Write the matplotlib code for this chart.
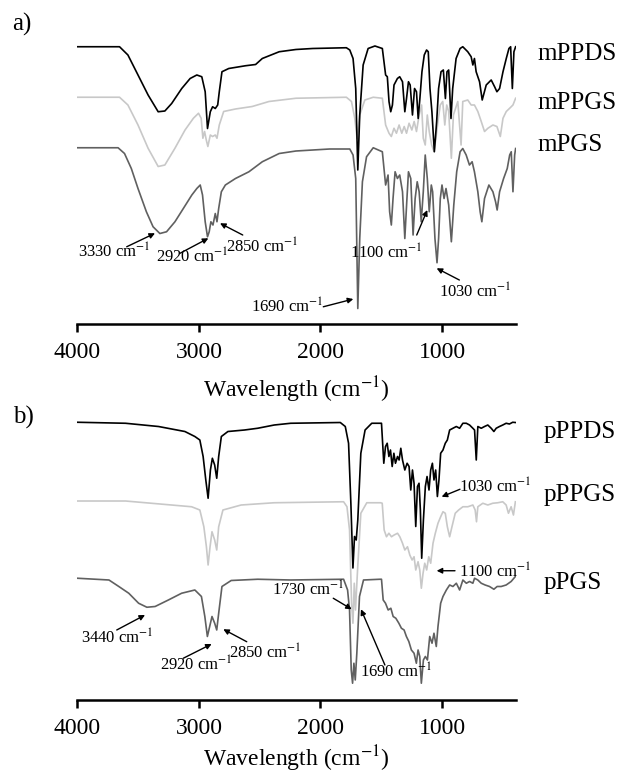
import matplotlib
matplotlib.use('Agg')
import matplotlib.pyplot as plt

plt.rcParams['font.family'] = ['Liberation Serif', 'DejaVu Serif']
plt.rcParams['mathtext.fontset'] = 'stix'

# spectra: wavenumber (cm-1) and transmittance (a.u., baseline = 100)
mppds_wn = [4000, 3654, 3585, 3502, 3419, 3336, 3281, 3225, 3142, 3073, 3018, 2977, 2949, 2930, 2907,
            2888, 2866, 2846, 2833, 2811, 2755, 2617, 2534, 2479, 2340, 2202, 2064, 1787, 1759, 1732,
            1710, 1693, 1677, 1649, 1608, 1552, 1491, 1464, 1450, 1436, 1422, 1408, 1395, 1367, 1348,
            1325, 1306, 1292, 1276, 1262, 1243, 1226, 1210, 1196, 1182, 1165, 1146, 1127, 1113, 1099,
            1083, 1063, 1044, 1028, 1008, 989, 972, 959, 945, 926, 912, 884, 851, 829, 788, 760, 746,
            733, 719, 691, 669, 636, 595, 567, 548, 526, 498, 471, 449, 435, 421, 408, 394]
mppds_t = [100, 100, 96.7, 88.7, 80.7, 74.0, 74.3, 77.3, 83.3, 87.3, 88.7, 88.0, 82.0, 67.3, 74.0,
           76.0, 75.3, 76.7, 82.0, 90.0, 91.3, 92.4, 92.9, 95.3, 98.0, 98.9, 99.3, 99.6, 98.7, 95.3,
           83.3, 50.7, 72.7, 92.7, 99.3, 100.3, 99.3, 88.7, 88.0, 78.0, 74.0, 76.7, 84.7, 87.3, 88.0,
           86.0, 74.0, 79.3, 86.0, 84.7, 72.7, 83.3, 82.0, 71.3, 79.3, 90.0, 96.7, 98.7, 98.0, 83.3,
           74.0, 58.0, 70.0, 83.3, 90.0, 90.7, 79.3, 90.0, 90.7, 71.3, 83.3, 95.3, 99.3, 100, 98.0, 96.0, 92.7,
           95.3, 90.0, 86.0, 78.7, 84.7, 86.7, 84.0, 82.0, 83.3, 90.0, 95.3, 99.3, 100, 83.3, 98.0, 100]

mppgs_wn = [4000, 3654, 3585, 3502, 3419, 3336, 3281, 3198, 3115, 3046, 3004, 2982, 2968, 2954, 2940,
            2927, 2907, 2888, 2866, 2852, 2833, 2797, 2700, 2562, 2424, 2202, 1787, 1745, 1718, 1699,
            1677, 1635, 1566, 1491, 1464, 1436, 1417, 1395, 1375, 1353, 1331, 1311, 1292, 1271, 1248,
            1229, 1210, 1188, 1168, 1154, 1138, 1121, 1105, 1085, 1066, 1050, 1030, 1014, 994, 977,
            961, 945, 923, 906, 870, 843, 829, 788, 760, 733, 705, 677, 650, 622, 581, 548, 520, 498,
            471, 443, 416, 394]
mppgs_t = [100, 100, 96.9, 88.9, 79.6, 72.3, 72.9, 79.6, 86.9, 91.6, 93.6, 91.6, 83.6, 86.3, 82.9,
           80.3, 84.9, 84.3, 84.9, 83.6, 88.9, 94.3, 95.3, 96.3, 98.3, 99.6, 100, 98.3, 91.6, 83.6,
           92.9, 98.9, 100, 99.6, 88.9, 85.6, 84.3, 87.6, 85.6, 88.9, 85.6, 88.3, 85.6, 89.6, 86.9,
           90.3, 86.3, 92.9, 96.9, 83.6, 80.9, 92.9, 86.3, 80.9, 78.3, 83.6, 91.6, 96.9, 98.3, 88.9,
           96.9, 94.3, 75.6, 92.9, 98.3, 80.9, 98.3, 98.9, 96.9, 96.9, 94.3, 90.3, 86.3, 87.6, 88.9, 88.3, 84.3, 91.6,
           94.3, 95.6, 96.9, 99.6]

mpgs_wn = [4000, 3666, 3613, 3557, 3502, 3433, 3378, 3322, 3267, 3198, 3129, 3059, 3018, 2990, 2971,
           2949, 2930, 2916, 2902, 2885, 2866, 2852, 2838, 2816, 2783, 2700, 2589, 2479, 2340, 2202,
           1925, 1759, 1732, 1710, 1693, 1677, 1655, 1621, 1566, 1491, 1464, 1444, 1431, 1417, 1403,
           1386, 1367, 1348, 1325, 1306, 1290, 1276, 1257, 1238, 1221, 1204, 1188, 1171, 1154, 1138,
           1121, 1105, 1088, 1077, 1058, 1041, 1028, 1014, 1000, 983, 967, 945, 923, 903, 879, 851,
           829, 801, 774, 752, 733, 705, 686, 672, 650, 614, 581, 559, 546, 526, 493, 463, 443, 430,
           416, 402, 394]
mpgs_t = [100, 100, 97.7, 91.7, 83.7, 74.4, 68.4, 65.7, 66.4, 70.4, 75.7, 81.1, 83.7, 85.1, 81.1,
          70.4, 64.4, 66.4, 70.4, 69.1, 73.7, 70.4, 75.7, 82.4, 85.1, 87.7, 90.4, 94.4, 97.7, 98.7,
          99.5, 99.5, 97.1, 87.7, 35.7, 63.7, 86.4, 96.4, 100, 98.4, 85.1, 89.1, 74.4, 69.1, 79.7,
          90.4, 87.7, 89.1, 82.4, 63.7, 78.4, 90.4, 87.7, 65.1, 79.7, 86.4, 82.4, 70.4, 82.4, 97.1,
          87.7, 74.4, 85.1, 82.4, 63.7, 54.0, 63.7, 79.7, 85.1, 79.7, 83.7, 77.1, 62.4, 77.1, 90.4, 98.4,
          99.7, 97.1, 93.1, 94.4, 90.4, 82.4, 74.4, 70.4, 79.7, 85.1, 82.4, 78.4, 75.1, 82.4, 87.7, 91.7, 97.1, 98.4,
          82.4, 97.1, 99.7]

pppds_wn = [4000, 3605, 3333, 3116, 3034, 2993, 2966, 2944, 2925, 2906, 2890, 2871, 2854, 2838, 2816,
            2762, 2626, 2517, 2381, 2245, 1837, 1796, 1769, 1750, 1733, 1720, 1706, 1693, 1668, 1633,
            1578, 1498, 1479, 1465, 1451, 1437, 1424, 1410, 1396, 1383, 1366, 1353, 1339, 1325, 1306,
            1287, 1271, 1257, 1243, 1230, 1216, 1202, 1189, 1178, 1167, 1153, 1137, 1123, 1107, 1093,
            1079, 1066, 1052, 1038, 1025, 1011, 992, 973, 956, 937, 910, 882, 855, 828, 800, 773, 746,
            732, 718, 705, 677, 650, 623, 595, 573, 554, 527, 500, 472, 445, 418, 396]
pppds_t = [100, 99.6, 98.3, 96.3, 94.3, 92.9, 86.3, 76.9, 69.6, 80.9, 85.6, 82.9, 77.6, 86.3, 94.3,
           96.3, 96.9, 97.6, 98.9, 99.6, 99.9, 98.3, 91.6, 67.6, 41.7, 54.3, 52.9, 60.9, 87.6, 96.9,
           99.6, 99.6, 83.6, 90.3, 91.6, 86.3, 88.9, 82.3, 87.6, 83.6, 86.3, 84.9, 89.6, 84.9, 80.9,
           83.6, 82.3, 72.9, 80.9, 75.6, 58.3, 74.3, 75.6, 64.9, 45.6, 60.9, 74.3, 78.3, 72.9, 80.9,
           83.6, 76.9, 80.9, 70.3, 76.9, 87.6, 88.9, 91.6, 92.9, 96.9, 97.6, 98.3, 97.6, 99.6, 99.6, 98.9, 97.6,
           96.9, 84.9, 98.3, 97.6, 98.3, 98.9, 97.6, 96.3, 97.6, 98.3, 98.9, 99.6, 99.3, 100, 99.9]

pppgs_wn = [4000, 3605, 3061, 2993, 2960, 2939, 2925, 2909, 2893, 2871, 2854, 2838, 2803, 2653, 2381,
            1810, 1782, 1761, 1744, 1733, 1722, 1712, 1695, 1668, 1619, 1505, 1492, 1476, 1457, 1437,
            1416, 1394, 1366, 1347, 1325, 1306, 1284, 1265, 1246, 1230, 1216, 1197, 1183, 1170, 1156,
            1142, 1126, 1109, 1093, 1074, 1055, 1033, 1011, 992, 973, 956, 937, 918, 891, 863, 828,
            787, 746, 727, 716, 705, 664, 623, 582, 541, 500, 472, 453, 431, 412, 396]
pppgs_t = [100, 100, 97.7, 96.4, 89.7, 81.7, 74.4, 81.7, 87.7, 84.4, 80.4, 89.7, 96.4, 98.4, 99.3,
           99.7, 97.7, 88.4, 59.1, 51.1, 67.1, 56.4, 72.4, 95.1, 99.3, 99.3, 99.1, 88.4, 85.7, 87.1,
           85.7, 86.4, 87.1, 85.7, 83.1, 80.4, 81.7, 78.4, 76.4, 77.7, 72.4, 75.7, 72.4, 65.1, 71.1,
           75.1, 72.4, 77.7, 75.1, 83.1, 87.1, 91.1, 93.7, 95.7, 95.1, 89.7, 85.7, 89.7, 95.1, 96.4, 97.7,
           97.7, 98.4, 96.4, 91.7, 97.7, 99.1, 98.4, 99.1, 99.3, 99.7, 98.4, 95.1, 97.7, 94.4, 99.7]

ppgs_wn = [4000, 3741, 3660, 3578, 3497, 3429, 3361, 3252, 3143, 3034, 2980, 2952, 2931, 2912, 2893,
           2871, 2854, 2838, 2811, 2735, 2517, 2245, 1810, 1777, 1761, 1747, 1736, 1725, 1714, 1701,
           1679, 1646, 1510, 1498, 1484, 1465, 1443, 1421, 1402, 1380, 1355, 1334, 1312, 1293, 1273,
           1252, 1230, 1211, 1197, 1183, 1170, 1153, 1137, 1120, 1101, 1082, 1066, 1047, 1033, 1011,
           992, 964, 937, 910, 882, 855, 828, 800, 773, 746, 732, 705, 677, 645, 609, 573, 546, 513,
           472, 431, 396]
ppgs_t = [100, 99.3, 96.7, 94.0, 90.0, 88.4, 88.7, 91.3, 94.0, 95.3, 92.7, 84.7, 76.7, 80.7, 84.7,
          82.0, 79.3, 86.0, 96.7, 99.1, 99.6, 99.3, 99.6, 95.3, 87.3, 63.3, 58.0, 66.0, 59.3, 70.0,
          92.7, 99.3, 99.6, 99.6, 91.3, 90.0, 87.3, 88.0, 84.7, 84.0, 82.0, 80.0, 79.3, 76.7, 74.7,
          71.3, 70.0, 66.0, 71.3, 68.7, 58.0, 67.3, 68.7, 67.3, 76.7, 74.0, 78.0, 72.7, 80.7, 90.0,
          92.7, 95.3, 97.3, 96.7, 98.0, 95.3, 99.3, 98.0, 98.7, 98.0, 100, 99.3, 98.0, 97.3, 96.7, 95.6, 96.7, 96.7,
          97.3, 98.7, 100.7]

names_a = ['mPPDS', 'mPPGS', 'mPGS']
names_b = ['pPPDS', 'pPPGS', 'pPGS']
colors = ['black', '#c8c8c8', '#606060']
offsets_a = [0, -20.2, -40.4]
offsets_b = [0, -31.5, -62.4]

# (label, text x, text y, arrow tail, arrow tip) in axes data units
notes_a = [('3330', 3700, 17.9, (3595, 20.0), (3362, 25.4)),
           ('2920', 3058, 16.0, (3156, 17.4), (2923, 23.4)),
           ('2850', 2480, 20.0, (2640, 24.7), (2827, 29.4)),
           ('1690', 2272, -4.0, (1977, -4.0), (1730, -0.9)),
           ('1100', 1461, 17.4, (1208, 24.7), (1121, 34.7)),
           ('1030', 722, 2.0, (857, 6.7), (1044, 11.4))]
notes_b = [('3440', 3671, 13.6, (3677, 16.9), (3444, 22.9)),
           ('2920', 3026, 2.9, (3129, 5.6), (2896, 11.3)),
           ('2850', 2455, 7.6, (2607, 12.2), (2800, 17.2)),
           ('1730', 2100, 32.9, (1895, 29.6), (1743, 25.2)),
           ('1690', 1379, 0.1, (1470, 2.9), (1667, 25.2)),
           ('1030', 564, 74.2, (852, 73.2), (1003, 70.2)),
           ('1100', 564, 40.2, (893, 40.6), (1044, 40.6))]

fig = plt.figure(figsize=(6.17, 7.75), dpi=100)
ax_a = fig.add_axes([0.1256, 0.5819, 0.7099, 0.3665])
ax_b = fig.add_axes([0.1256, 0.0968, 0.7099, 0.3677])

panels = [
    (ax_a, [(mppds_wn, mppds_t), (mppgs_wn, mppgs_t), (mpgs_wn, mpgs_t)], names_a, offsets_a,
     notes_a, (-10.9, 102.7), [96.9, 77.6, 60.7], 218, 8),
    (ax_b, [(pppds_wn, pppds_t), (pppgs_wn, pppgs_t), (ppgs_wn, ppgs_t)], names_b, offsets_b,
     notes_b, (-11.1, 102.9), [96.2, 70.9, 35.6], 166, 3),
]

for ax, series, names, offs, notes, ylim, label_y, label_x, lpad in panels:
    # draw bottom trace first so the black one sits on top
    for i in [2, 1, 0]:
        wn, t = series[i]
        ax.plot(wn, [v + offs[i] for v in t], color=colors[i], lw=1.2)
        ax.text(label_x, label_y[i], names[i], fontsize=18, ha='left', va='center', clip_on=False)
    for lab, tx, ty, tail, tip in notes:
        ax.text(tx, ty, lab + ' cm$^{-1}$', fontsize=12, ha='center', va='center')
        ax.annotate('', xy=tip, xytext=tail,
                    arrowprops=dict(arrowstyle='-|>', color='black', lw=1.0, mutation_scale=8,
                                    shrinkA=0, shrinkB=0))
    ax.set_xlim(4000, 395)
    ax.set_ylim(*ylim)
    ax.set_xticks([4000, 3000, 2000, 1000])
    ax.set_yticks([])
    for s in ['top', 'left', 'right']:
        ax.spines[s].set_visible(False)
    ax.spines['bottom'].set_linewidth(1.8)
    ax.tick_params(axis='x', direction='out', length=6, width=1.8, labelsize=17, pad=7)
    ax.set_xlabel('Wavelength (cm$^{-1}$)', fontsize=17, labelpad=lpad)
    ax.patch.set_visible(False)

fig.text(0.019, 0.968, 'a)', fontsize=18, va='center')
fig.text(0.021, 0.461, 'b)', fontsize=18, va='center')

fig.savefig('out.png', dpi=100)
